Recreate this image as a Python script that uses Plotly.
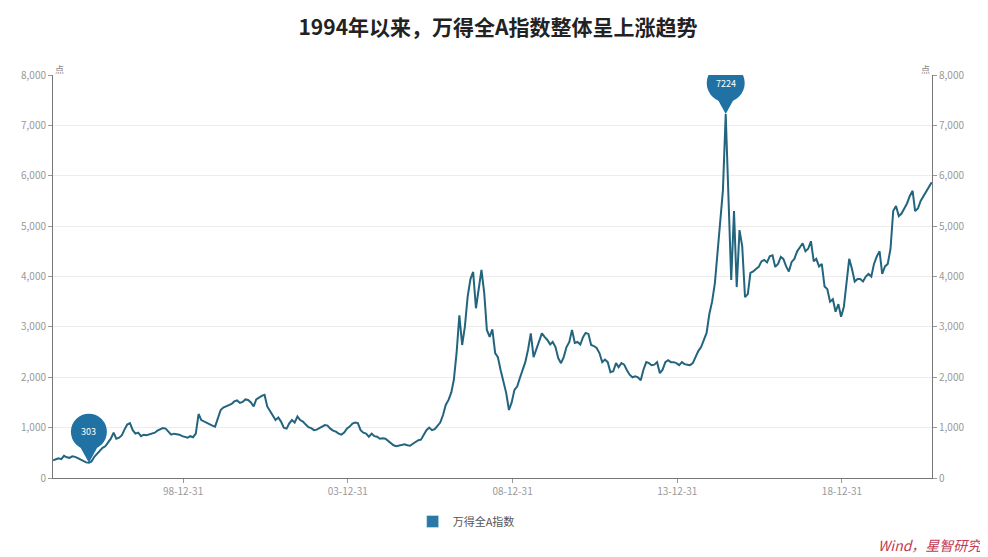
import pandas as pd
import plotly.graph_objects as go

# Monthly values of 万得全A指数 (1995-01 .. 2021-09)
v1995 = [350, 365, 390, 375, 440, 410, 400, 430, 420, 395, 370, 340]
v1996 = [310, 303, 330, 420, 480, 560, 600, 630, 700, 780, 900, 780]
v1997 = [800, 850, 960, 1060, 1090, 950, 880, 900, 830, 860, 850, 870]
v1998 = [880, 900, 940, 970, 990, 980, 930, 860, 880, 870, 860, 830]
v1999 = [820, 800, 830, 810, 880, 1270, 1150, 1120, 1090, 1060, 1040, 1020]
v2000 = [1180, 1350, 1400, 1420, 1450, 1470, 1520, 1540, 1490, 1510, 1560, 1550]
v2001 = [1500, 1420, 1560, 1600, 1630, 1650, 1420, 1330, 1250, 1150, 1200, 1120]
v2002 = [1000, 980, 1080, 1150, 1100, 1220, 1150, 1120, 1060, 1010, 990, 950]
v2003 = [960, 1000, 1020, 1050, 1040, 980, 940, 920, 880, 860, 900, 980]
v2004 = [1020, 1080, 1100, 1090, 950, 900, 880, 820, 880, 830, 820, 780]
v2005 = [790, 780, 740, 700, 650, 630, 640, 660, 670, 650, 640, 680]
v2006 = [720, 750, 760, 850, 950, 1000, 950, 970, 1040, 1100, 1250, 1450]
v2007 = [1550, 1700, 1950, 2500, 3230, 2640, 3000, 3600, 3950, 4090, 3370, 3750]
v2008 = [4130, 3670, 2940, 2800, 2950, 2480, 2400, 2140, 1900, 1690, 1350, 1500]
v2009 = [1750, 1820, 1980, 2150, 2300, 2550, 2870, 2400, 2550, 2700, 2870, 2800]
v2010 = [2740, 2650, 2700, 2600, 2380, 2280, 2400, 2600, 2700, 2940, 2680, 2700]
v2011 = [2650, 2800, 2880, 2860, 2640, 2620, 2580, 2480, 2300, 2350, 2300, 2100]
v2012 = [2120, 2280, 2200, 2280, 2250, 2140, 2050, 2000, 2020, 2000, 1940, 2150]
v2013 = [2300, 2280, 2240, 2250, 2300, 2080, 2150, 2300, 2340, 2300, 2300, 2280]
v2014 = [2240, 2300, 2260, 2250, 2240, 2280, 2400, 2520, 2600, 2750, 2880, 3250]
v2015 = [3500, 3870, 4500, 5200, 5710, 7224, 5380, 3930, 5300, 3790, 4920, 4600]
v2016 = [3590, 3650, 4070, 4100, 4150, 4190, 4300, 4330, 4280, 4400, 4420, 4190]
v2017 = [4250, 4390, 4350, 4200, 4100, 4290, 4350, 4500, 4580, 4660, 4500, 4550]
v2018 = [4700, 4300, 4350, 4200, 4250, 3800, 3750, 3500, 3550, 3300, 3450, 3200]
v2019 = [3400, 3850, 4350, 4150, 3900, 3950, 3950, 3900, 4000, 4050, 4000, 4250]
v2020 = [4400, 4500, 4050, 4200, 4250, 4550, 5300, 5400, 5200, 5250, 5350, 5450]
v2021 = [5600, 5700, 5300, 5350, 5500, 5600, 5700, 5800, 5870]

values = (v1995 + v1996 + v1997 + v1998 + v1999 + v2000 + v2001 + v2002 + v2003
          + v2004 + v2005 + v2006 + v2007 + v2008 + v2009 + v2010 + v2011 + v2012
          + v2013 + v2014 + v2015 + v2016 + v2017 + v2018 + v2019 + v2020 + v2021)
dates = pd.date_range("1995-01-01", periods=len(values), freq="MS") + pd.Timedelta(days=20)

tick_dates = ["1998-12-31", "2003-12-31", "2008-12-31", "2013-12-31", "2018-12-31"]
tick_text = ["98-12-31", "03-12-31", "08-12-31", "13-12-31", "18-12-31"]
y_ticks = [0, 1000, 2000, 3000, 4000, 5000, 6000, 7000, 8000]

series_name = "万得全A指数"
title_text = "1994年以来，万得全A指数整体呈上涨趋势"
source_text = "Wind，星智研究"

LINE = "#23647f"
PIN = "#1f72a3"
FONT = "Noto Sans CJK SC"

fig = go.Figure()
fig.add_trace(go.Scatter(x=dates, y=values, mode="lines",
                         line=dict(color=LINE, width=2),
                         showlegend=False, name=series_name))
# legend swatch (filled rectangle)
fig.add_trace(go.Bar(x=[dates[0]], y=[None], name=series_name,
                     marker_color="#2a78a6", showlegend=True))
# invisible trace to activate right axis
fig.add_trace(go.Scatter(x=[dates[0]], y=[values[0]], yaxis="y2", mode="markers",
                         marker=dict(opacity=0), showlegend=False, hoverinfo="skip"))

# pins at min and max
vmin = min(values)
vmax = max(values)
i_min = values.index(vmin)
i_max = values.index(vmax)
shapes = []
annotations = []
for idx, r in ((i_min, 18), (i_max, 19)):
    xa = dates[idx]
    ya = values[idx]
    shapes.append(dict(type="path", xref="x", yref="y", xsizemode="pixel", ysizemode="pixel",
                       xanchor=xa, yanchor=ya,
                       path="M -11 20 L 0 0 L 11 20 Z",
                       fillcolor=PIN, line=dict(width=0)))
    shapes.append(dict(type="circle", xref="x", yref="y", xsizemode="pixel", ysizemode="pixel",
                       xanchor=xa, yanchor=ya,
                       x0=-r, x1=r, y0=31 - r, y1=31 + r,
                       fillcolor=PIN, line=dict(width=0)))
    annotations.append(dict(x=xa, y=ya, xref="x", yref="y", yshift=31, showarrow=False,
                            text=str(ya), font=dict(color="white", size=9, family=FONT)))

annotations.append(dict(x=0, y=1, xref="paper", yref="paper", yshift=14, showarrow=False,
                        text="点", font=dict(size=9, color="#888", family=FONT)))
annotations.append(dict(x=1, y=1, xref="paper", yref="paper", yshift=14, showarrow=False,
                        text="点", font=dict(size=9, color="#888", family=FONT)))
annotations.append(dict(x=1.0603, y=-0.166, xref="paper", yref="paper", xanchor="right",
                        yanchor="middle", showarrow=False, text="<i>" + source_text + "</i>",
                        font=dict(size=14, color="#c23a55", family=FONT)))

# page body has an 8px margin, so the figure is laid out 8px smaller
fig.update_layout(
    width=980, height=549,
    margin=dict(l=45, r=56, t=67, b=79),
    paper_bgcolor="white", plot_bgcolor="white",
    title=dict(text="<b>" + title_text + "</b>", x=0.5, xanchor="center", y=0.9636, yanchor="middle",
               font=dict(size=21, color="#222", family=FONT)),
    xaxis=dict(range=["1995-01-19", "2021-09-24"], tickvals=tick_dates, ticktext=tick_text,
               showgrid=False, showline=True, linecolor="#777", linewidth=1,
               ticks="outside", ticklen=4, tickcolor="#999", automargin=False,
               tickfont=dict(size=10, color="#999", family=FONT), zeroline=False),
    yaxis=dict(range=[0, 8000], tickvals=y_ticks, tickformat=",d", automargin=False,
               showgrid=True, gridcolor="#ececec", showline=True, linecolor="#777",
               ticks="outside", ticklen=4, tickcolor="#999", zeroline=False,
               tickfont=dict(size=10, color="#999", family=FONT)),
    yaxis2=dict(range=[0, 8000], tickvals=y_ticks, tickformat=",d", overlaying="y", side="right",
                showgrid=False, showline=True, linecolor="#777", automargin=False,
                ticks="outside", ticklen=4, tickcolor="#999", zeroline=False,
                tickfont=dict(size=10, color="#999", family=FONT)),
    legend=dict(orientation="h", x=0.47, xanchor="center", y=-0.072, yanchor="top",
                font=dict(size=11, color="#555", family=FONT)),
    shapes=shapes, annotations=annotations,
    font=dict(family=FONT),
)

fig.write_html("out.html")
